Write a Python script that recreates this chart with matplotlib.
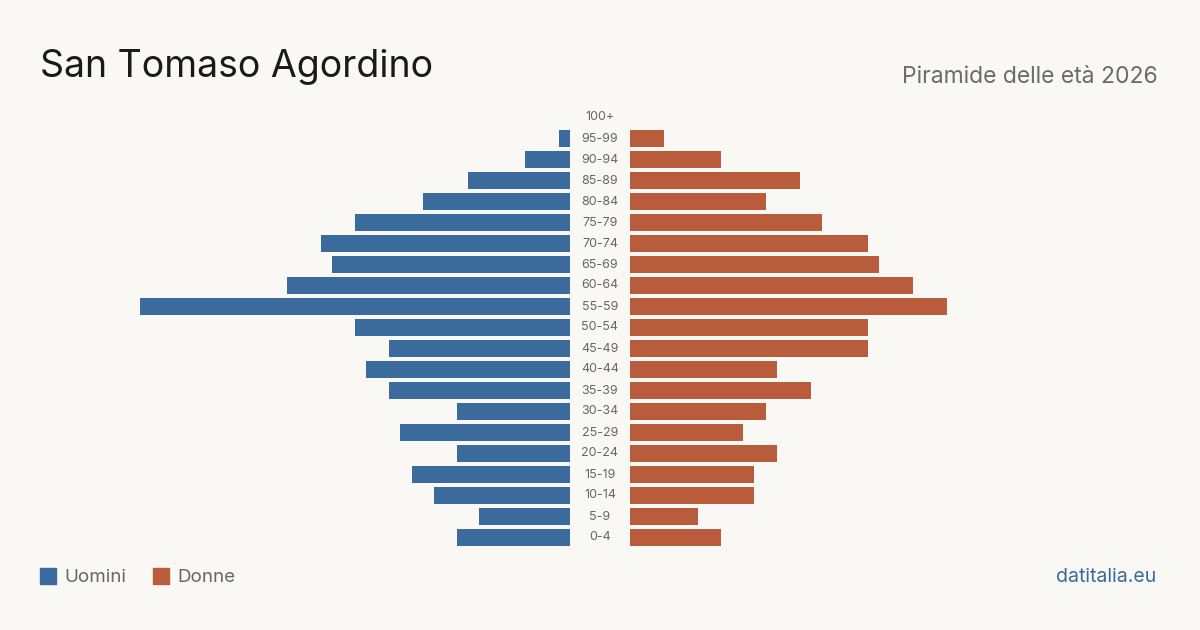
import matplotlib
matplotlib.use("Agg")
import matplotlib.pyplot as plt
from matplotlib.patches import Rectangle

plt.rcParams['font.family'] = ['Inter', 'DejaVu Sans']

# Fasce d'età dal basso verso l'alto
age_groups = ['0-4', '5-9', '10-14', '15-19', '20-24', '25-29', '30-34', '35-39',
              '40-44', '45-49', '50-54', '55-59', '60-64', '65-69', '70-74',
              '75-79', '80-84', '85-89', '90-94', '95-99', '100+']
men = [10, 8, 12, 14, 10, 15, 10, 16, 18, 16, 19, 38, 25, 21, 22, 19, 13, 9, 4, 1, 0]
women = [8, 6, 11, 11, 13, 10, 12, 16, 13, 21, 21, 28, 25, 22, 21, 17, 12, 15, 8, 3, 0]

bg = '#f9f8f4'
blue = '#3a6b9c'
orange = '#b95c3c'
xmax = 38

fig = plt.figure(figsize=(12, 6.3), dpi=100, facecolor=bg)

bottom = 1 - 548 / 630
height = 441 / 630
ax_l = fig.add_axes([140 / 1200, bottom, 430 / 1200, height])
ax_r = fig.add_axes([630 / 1200, bottom, 430 / 1200, height])

y = list(range(len(age_groups)))
ax_l.barh(y, men, height=0.8, color=blue)
ax_r.barh(y, women, height=0.8, color=orange)
ax_l.set_xlim(xmax, 0)
ax_r.set_xlim(0, xmax)

for ax in (ax_l, ax_r):
    ax.set_ylim(-0.5, len(age_groups) - 0.5)
    ax.axis('off')
    ax.set_facecolor('none')

# Etichette delle fasce al centro
for i, lab in enumerate(age_groups):
    yy = bottom + height * (i + 0.5) / len(age_groups)
    fig.text(600 / 1200, yy, lab, ha='center', va='center', fontsize=9, color='#666666')

fig.text(40 / 1200, 1 - 67 / 630, 'San Tomaso Agordino', fontsize=27, color='#1a1a1a',
         ha='left', va='center')
fig.text(1158 / 1200, 1 - 77 / 630, 'Piramide delle età 2026', fontsize=16.5, color='#6b6b6b',
         ha='right', va='center')

# Legenda
fig.patches.append(Rectangle((40 / 1200, 1 - 584 / 630), 16 / 1200, 16 / 630,
                             transform=fig.transFigure, color=blue))
fig.text(64 / 1200, 1 - 577 / 630, 'Uomini', fontsize=13.5, color='#666666', va='center')
fig.patches.append(Rectangle((153 / 1200, 1 - 584 / 630), 16 / 1200, 16 / 630,
                             transform=fig.transFigure, color=orange))
fig.text(177 / 1200, 1 - 577 / 630, 'Donne', fontsize=13.5, color='#666666', va='center')

fig.text(1156 / 1200, 1 - 577 / 630, 'datitalia.eu', fontsize=14, color=blue,
         ha='right', va='center')

fig.savefig('out.png', dpi=100, facecolor=bg)
